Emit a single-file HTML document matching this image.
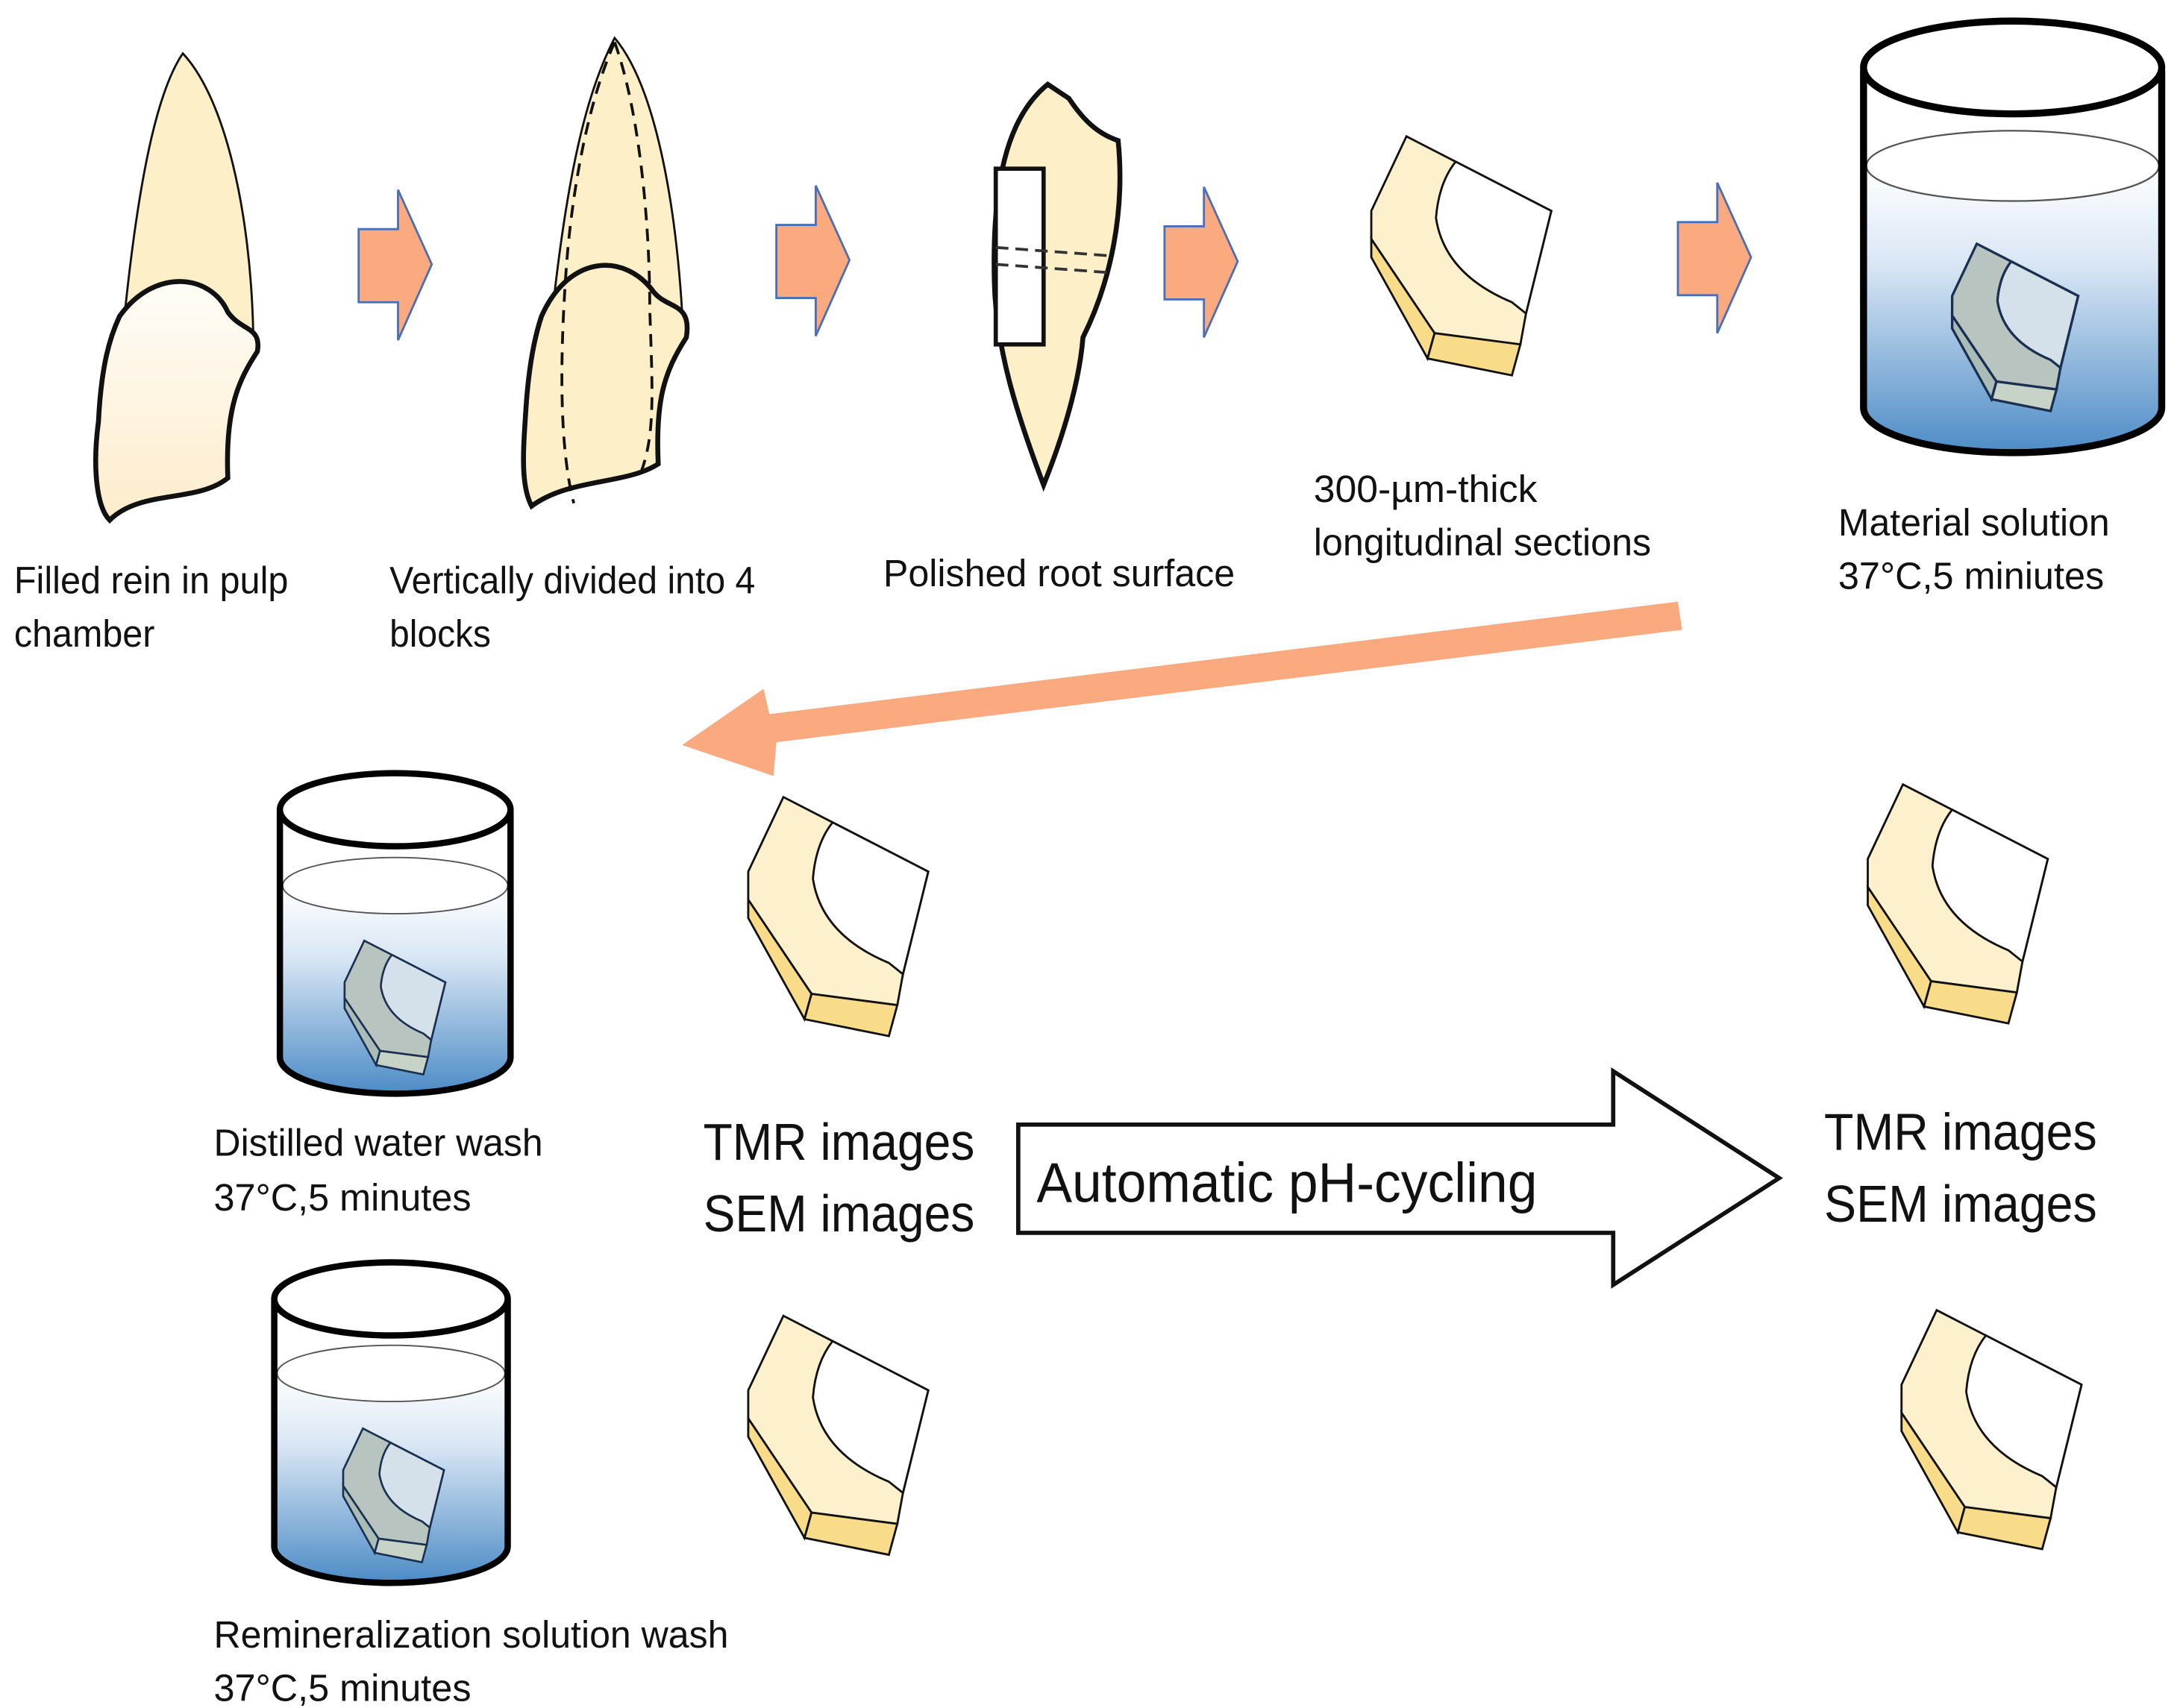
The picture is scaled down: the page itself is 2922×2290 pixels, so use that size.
<!DOCTYPE html>
<html><head><meta charset="utf-8"><style>
html,body{margin:0;padding:0;background:#fff}
svg{display:block}
text{font-family:"Liberation Sans",sans-serif;fill:#111}
</style></head><body>
<svg width="2922" height="2290" viewBox="0 0 1550 1215" preserveAspectRatio="none" xmlns="http://www.w3.org/2000/svg">
<defs>
<linearGradient id="water" x1="0" y1="0" x2="0" y2="1">
<stop offset="0" stop-color="#ffffff"/><stop offset="0.35" stop-color="#d8e6f4"/><stop offset="1" stop-color="#4f8dc7"/>
</linearGradient>
<linearGradient id="crown" x1="0" y1="0" x2="0" y2="1">
<stop offset="0" stop-color="#fffdf8"/><stop offset="1" stop-color="#fdeccb"/>
</linearGradient>
<g id="piece">
<path d="M0,55 L25,2 L128,55 L110,128 L106,150 L45,142 L0,75 Z" fill="#fdf0cc" stroke="#111" stroke-width="1.5"/>
<path d="M0,75 L45,142 L40,160 L0,88 Z" fill="#f9dc8a" stroke="#111" stroke-width="1.5"/>
<path d="M45,142 L106,150 L100,172 L40,160 Z" fill="#f9dc8a" stroke="#111" stroke-width="1.5"/>
<path d="M60,20 L128,55 L110,128 L100,120 Q52,100 46,60 Q48,35 60,20 Z" fill="#fff" stroke="#111" stroke-width="1.5"/>
</g>
<g id="gpiece">
<path d="M0,55 L25,2 L128,55 L110,128 L106,150 L45,142 L0,75 Z" fill="#b8c4c0" stroke="#1b3050" stroke-width="2.5"/>
<path d="M0,75 L45,142 L40,160 L0,88 Z" fill="#a9bcb8" stroke="#1b3050" stroke-width="2.5"/>
<path d="M45,142 L106,150 L100,172 L40,160 Z" fill="#c8d3c8" stroke="#1b3050" stroke-width="2.5"/>
<path d="M60,20 L128,55 L110,128 L100,120 Q52,100 46,60 Q48,35 60,20 Z" fill="#d5e1ea" stroke="#1b3050" stroke-width="2.5"/>
</g>
<g id="oarrow">
<path d="M0,28 L28,28 L28,0 L52,53 L28,107 L28,80 L0,80 Z" fill="#fbaa80" stroke="#4a6fb5" stroke-width="1.5"/>
</g>
</defs>

<!-- Tooth 1 -->
<path d="M130,38 C115,60 100,110 88,230 L180,235 C178,150 160,70 130,38Z" fill="#fdf0c8" stroke="#111" stroke-width="1.5"/>
<path d="M85,225 C110,190 150,195 162,222 C172,236 186,232 183,250 C170,270 160,290 162,340 C140,358 100,348 78,370 C68,360 66,330 70,300 C72,260 78,240 85,225Z" fill="url(#crown)" stroke="#111" stroke-width="3.5"/>
<!-- Tooth 2 -->
<path d="M437,27 C420,60 405,110 393,220 L485,222 C480,140 465,60 437,27Z" fill="#fdf0c8" stroke="#111" stroke-width="1.5"/>
<path d="M385,225 C405,180 445,180 465,208 C475,220 492,215 488,240 C472,265 466,285 468,330 C445,345 405,340 378,360 C370,345 372,320 374,290 C376,260 380,240 385,225Z" fill="#fdf0c8" stroke="#111" stroke-width="3.5"/>
<path d="M437,30 C415,80 405,150 402,200 C398,260 398,320 408,358" fill="none" stroke="#111" stroke-width="2" stroke-dasharray="9,6"/>
<path d="M437,30 C455,80 462,160 462,220 C464,280 466,310 455,338" fill="none" stroke="#111" stroke-width="2" stroke-dasharray="9,6"/>
<!-- Tooth 3 -->
<path d="M745,60 C720,80 705,120 707,200 C708,250 725,300 742,345 C760,300 768,265 770,240 C790,200 800,150 795,100 C780,95 770,85 760,70Z" fill="#fdf0c8" stroke="#111" stroke-width="3.5"/>
<rect x="708" y="120" width="34" height="125" fill="#fff" stroke="#111" stroke-width="3"/>
<path d="M708,176 L790,182 M708,188 L790,194" stroke="#333" stroke-width="2" stroke-dasharray="9,5"/>

<!-- orange arrows -->
<use href="#oarrow" x="255" y="135"/>
<use href="#oarrow" x="552" y="132"/>
<use href="#oarrow" x="828" y="133"/>
<use href="#oarrow" x="1193" y="130"/>

<!-- piece top -->
<use href="#piece" x="975" y="95"/>

<!-- big beaker -->
<path d="M1327,118 L1327,290 A104,30 0 0 0 1535,290 L1535,118 A104,25 0 0 1 1327,118Z" fill="url(#water)"/>
<ellipse cx="1431" cy="118" rx="104" ry="25" fill="none" stroke="#555" stroke-width="1.2"/>
<g transform="translate(1388,172) scale(0.7)"><use href="#gpiece"/></g>
<path d="M1325,50 L1325,290 A106,32 0 0 0 1537,290 L1537,50" fill="none" stroke="#000" stroke-width="5"/>
<ellipse cx="1431" cy="48" rx="106" ry="33" fill="none" stroke="#000" stroke-width="5"/>

<!-- small beaker 1 -->
<path d="M201,630 L201,752 A80,24 0 0 0 361,752 L361,630 A80,20 0 0 1 201,630Z" fill="url(#water)"/>
<ellipse cx="281" cy="630" rx="80" ry="20" fill="none" stroke="#555" stroke-width="1"/>
<g transform="translate(245,668) scale(0.56)"><use href="#gpiece"/></g>
<path d="M199,577 L199,752 A82,26 0 0 0 363,752 L363,577" fill="none" stroke="#000" stroke-width="4.5"/>
<ellipse cx="281" cy="576" rx="82" ry="26" fill="none" stroke="#000" stroke-width="4.5"/>

<!-- small beaker 2 -->
<path d="M197,977 L197,1100 A81,24 0 0 0 359,1100 L359,977 A81,20 0 0 1 197,977Z" fill="url(#water)"/>
<ellipse cx="278" cy="977" rx="81" ry="20" fill="none" stroke="#555" stroke-width="1"/>
<g transform="translate(244,1015) scale(0.56)"><use href="#gpiece"/></g>
<path d="M195,925 L195,1100 A83,26 0 0 0 361,1100 L361,925" fill="none" stroke="#000" stroke-width="4.5"/>
<ellipse cx="278" cy="924" rx="83" ry="26" fill="none" stroke="#000" stroke-width="4.5"/>

<!-- diagonal arrow -->
<path d="M1193,428 L1196,448 L552,528 L550,552 L485,530 L543,490 L547,508 Z" fill="#fbaa80"/>

<!-- pieces -->
<use href="#piece" x="532" y="565"/>
<use href="#piece" x="532" y="934"/>
<use href="#piece" x="1328" y="556"/>
<use href="#piece" x="1352" y="930"/>

<!-- white arrow -->
<path d="M724,800 L1147,800 L1147,762 L1265,838 L1147,914 L1147,877 L724,877 Z" fill="#fff" stroke="#111" stroke-width="3"/>

<!-- texts -->
<g font-size="27">
<text x="10" y="422" textLength="195" lengthAdjust="spacingAndGlyphs">Filled rein in pulp</text>
<text x="10" y="460" textLength="100" lengthAdjust="spacingAndGlyphs">chamber</text>
<text x="277" y="422" textLength="260" lengthAdjust="spacingAndGlyphs">Vertically divided into 4</text>
<text x="277" y="460" textLength="72" lengthAdjust="spacingAndGlyphs">blocks</text>
<text x="628" y="417" textLength="250" lengthAdjust="spacingAndGlyphs">Polished root surface</text>
<text x="934" y="357" textLength="159" lengthAdjust="spacingAndGlyphs">300-µm-thick</text>
<text x="934" y="395" textLength="240" lengthAdjust="spacingAndGlyphs">longitudinal sections</text>
<text x="1307" y="381" textLength="193" lengthAdjust="spacingAndGlyphs">Material solution</text>
<text x="1307" y="419" textLength="189" lengthAdjust="spacingAndGlyphs">37°C,5 miniutes</text>
<text x="152" y="822" textLength="234" lengthAdjust="spacingAndGlyphs">Distilled water wash</text>
<text x="152" y="861" textLength="183" lengthAdjust="spacingAndGlyphs">37°C,5 minutes</text>
<text x="152" y="1172" textLength="366" lengthAdjust="spacingAndGlyphs">Remineralization solution wash</text>
<text x="152" y="1210" textLength="183" lengthAdjust="spacingAndGlyphs">37°C,5 minutes</text>
</g>
<g font-size="37">
<text x="500" y="825" textLength="193" lengthAdjust="spacingAndGlyphs">TMR images</text>
<text x="500" y="876" textLength="193" lengthAdjust="spacingAndGlyphs">SEM images</text>
<text x="1297" y="818" textLength="194" lengthAdjust="spacingAndGlyphs">TMR images</text>
<text x="1297" y="869" textLength="194" lengthAdjust="spacingAndGlyphs">SEM images</text>
<text x="737" y="855" font-size="40" textLength="356" lengthAdjust="spacingAndGlyphs">Automatic pH-cycling</text>
</g>
</svg>
</body></html>
